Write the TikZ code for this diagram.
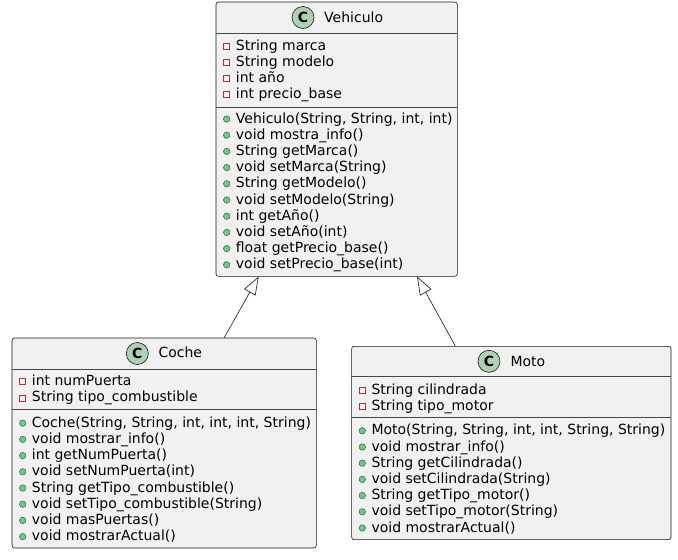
\documentclass[tikz,border=0pt]{standalone}
\usepackage{fontspec}
\setmainfont{DejaVu Sans}
\usepackage{xcolor}
\usetikzlibrary{positioning,calc,arrows.meta}
\definecolor{boxFill}{HTML}{F1F1F1}
\definecolor{boxLine}{HTML}{181818}
\definecolor{spotFill}{HTML}{ADD1B2}
\definecolor{privLine}{HTML}{C82930}
\definecolor{pubFill}{HTML}{84BE84}
\definecolor{pubLine}{HTML}{038048}
\tikzset{
  classBox/.style={
    rectangle,
    rounded corners=2.5pt,
    draw=boxLine,
    fill=boxFill,
    line width=0.6pt,
    anchor=north west,
    inner sep=0pt
  },
  sepLine/.style={
    draw=boxLine!80,
    line width=0.6pt
  },
  classTitle/.style={
    anchor=base west,
    inner sep=0pt,
    font=\fontsize{14}{16}\selectfont
  },
  memberText/.style={
    anchor=base west,
    inner sep=0pt,
    font=\fontsize{14}{16}\selectfont
  },
  classSpot/.style={
    circle,
    draw=boxLine,
    fill=spotFill,
    line width=0.6pt,
    minimum size=22pt,
    inner sep=0pt,
    font=\fontsize{14}{16}\selectfont\bfseries
  },
  privMark/.style={
    rectangle,
    draw=privLine,
    line width=0.7pt,
    minimum size=6pt,
    inner sep=0pt
  },
  pubMark/.style={
    circle,
    draw=pubLine,
    fill=pubFill,
    line width=0.5pt,
    minimum size=6.5pt,
    inner sep=0pt
  },
  extendsLine/.style={
    -{Triangle[open,length=18pt,width=13pt,fill=white]},
    draw=boxLine,
    line width=0.6pt
  }
}

\begin{document}
\begin{tikzpicture}[x=1pt,y=-1pt]
        \useasboundingbox (0,0) rectangle (678,560);

        % Vehiculo
        \node[classBox, minimum width=241.3pt, minimum height=274.3pt] (vehiculo) at (215.7,1.7) {};
        \draw[sepLine] (215.7,33.3) -- (457,33.3);
        \draw[sepLine] (215.7,107.3) -- (457,107.3);
        \node[classSpot] (vehSpot) at (303,17.5) {C};
        \node[classTitle] (vehTitle) at (324,22) {Vehiculo};
        \foreach \txt [count=\i] in {String marca, String modelo, int año, int precio\_base}{
          \node[privMark] (vehAttrMark\i) at (226.7,{46+16.2*(\i-1)}) {};
          \node[memberText] (vehAttr\i) at (235.7,{50+16.2*(\i-1)}) {\txt};
        }
        \foreach \txt [count=\i] in {{Vehiculo(String, String, int, int)}, void mostra\_info(), String getMarca(),
          void setMarca(String), String getModelo(), void setModelo(String), int getAño(), void setAño(int),
          float getPrecio\_base(), void setPrecio\_base(int)}{
          \node[pubMark] (vehOpMark\i) at (226.7,{119+16.2*(\i-1)}) {};
          \node[memberText] (vehOp\i) at (235.7,{123+16.2*(\i-1)}) {\txt};
        }

        % Coche
        \node[classBox, minimum width=304.3pt, minimum height=210pt] (coche) at (11.7,337.7) {};
        \draw[sepLine] (11.7,369.3) -- (316,369.3);
        \draw[sepLine] (11.7,409) -- (316,409);
        \node[classSpot] (cocheSpot) at (137.3,353.5) {C};
        \node[classTitle] (cocheTitle) at (158.3,357.9) {Coche};
        \foreach \txt [count=\i] in {int numPuerta, String tipo\_combustible}{
          \node[privMark] (cocheAttrMark\i) at (22.7,{381.7+16.2*(\i-1)}) {};
          \node[memberText] (cocheAttr\i) at (31.7,{385.7+16.2*(\i-1)}) {\txt};
        }
        \foreach \txt [count=\i] in {{Coche(String, String, int, int, int, String)}, void mostrar\_info(),
          int getNumPuerta(), void setNumPuerta(int), String getTipo\_combustible(),
          void setTipo\_combustible(String), void masPuertas(), void mostrarActual()}{
          \node[pubMark] (cocheOpMark\i) at (22.7,{423.2+16.2*(\i-1)}) {};
          \node[memberText] (cocheOp\i) at (31.7,{427.2+16.2*(\i-1)}) {\txt};
        }

        % Moto
        \node[classBox, minimum width=319.4pt, minimum height=193.3pt] (moto) at (351.3,346) {};
        \draw[sepLine] (351.3,376.7) -- (670.7,376.7);
        \draw[sepLine] (351.3,417.7) -- (670.7,417.7);
        \node[classSpot] (motoSpot) at (489,361.3) {C};
        \node[classTitle] (motoTitle) at (510.3,366) {Moto};
        \foreach \txt [count=\i] in {String cilindrada, String tipo\_motor}{
          \node[privMark] (motoAttrMark\i) at (362.3,{390+16.2*(\i-1)}) {};
          \node[memberText] (motoAttr\i) at (371.3,{394+16.2*(\i-1)}) {\txt};
        }
        \foreach \txt [count=\i] in {{Moto(String, String, int, int, String, String)}, void mostrar\_info(),
          String getCilindrada(), void setCilindrada(String), String getTipo\_motor(),
          void setTipo\_motor(String), void mostrarActual()}{
          \node[pubMark] (motoOpMark\i) at (362.3,{430.8+16.2*(\i-1)}) {};
          \node[memberText] (motoOp\i) at (371.3,{434.8+16.2*(\i-1)}) {\txt};
        }

        % herencia
        \draw[extendsLine] ([xshift=60pt]coche.north) -- ([xshift=-78pt]vehiculo.south);
        \draw[extendsLine] ([xshift=-56pt]moto.north) -- ([xshift=80.4pt]vehiculo.south);
    \end{tikzpicture}
\end{document}
